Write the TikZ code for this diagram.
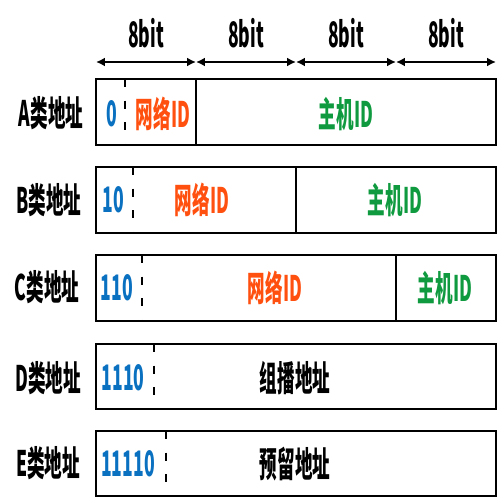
\documentclass[tikz,border=0pt]{standalone}
\usepackage{fontspec}
\setmainfont{Noto Sans CJK SC}[FakeStretch=0.5]
\usetikzlibrary{arrows.meta}

\definecolor{netred}{HTML}{FF5010}
\definecolor{hostgreen}{HTML}{109A40}
\definecolor{bitblue}{HTML}{0A70C0}

\tikzset{
  fieldbox/.style={draw, line width=1.6pt},
  divider/.style={line width=1.1pt},
  prefixcut/.style={dash pattern=on 4.5pt off 7.8pt, line width=1.1pt},
  bitspan/.style={{Latex[length=5pt,width=5pt]}-{Latex[length=5pt,width=5pt]}, line width=1.1pt},
  lbl/.style={font=\bfseries\fontsize{20}{20}\selectfont, inner sep=0pt},
}

\begin{document}
\begin{tikzpicture}[x=0.02cm, y=-0.02cm]
\useasboundingbox (0,0) rectangle (500,500);
% bit widths
\coordinate (t0) at (96,62);
\coordinate (t1) at (196,62);
\coordinate (t2) at (296,62);
\coordinate (t3) at (396,62);
\coordinate (t4) at (496,62);
\draw[bitspan] (t0) -- (t1);
\draw[bitspan] (t1) -- (t2);
\draw[bitspan] (t2) -- (t3);
\draw[bitspan] (t3) -- (t4);
\node[lbl] (b1) at (146,33) {8bit};
\node[lbl] (b2) at (246,33) {8bit};
\node[lbl] (b3) at (346,33) {8bit};
\node[lbl] (b4) at (446,33) {8bit};

% A
\node[lbl] (a) at (51,113) {A类地址};
\draw[fieldbox] (96,79) rectangle (496,145);
\draw[divider] (196,79) -- (196,145);
\draw[prefixcut] (125,79) -- (125,145);
\node[lbl, text=bitblue] (a0) at (112,114) {0};
\node[lbl, text=netred] (anet) at (163,114) {网络ID};
\node[lbl, text=hostgreen] (ahost) at (346,114) {主机ID};

% B
\node[lbl] (b) at (49,200) {B类地址};
\draw[fieldbox] (96,167) rectangle (496,233);
\draw[divider] (296,167) -- (296,233);
\draw[prefixcut] (133,167) -- (133,233);
\node[lbl, text=bitblue] (b0) at (113,200) {10};
\node[lbl, text=netred] (bnet) at (202,200) {网络ID};
\node[lbl, text=hostgreen] (bhost) at (395,200) {主机ID};

% C
\node[lbl] (c) at (47,287) {C类地址};
\draw[fieldbox] (96,255) rectangle (496,321);
\draw[divider] (396,255) -- (396,321);
\draw[prefixcut] (142,255) -- (142,321);
\node[lbl, text=bitblue] (c0) at (117,288) {110};
\node[lbl, text=netred] (cnet) at (275,288) {网络ID};
\node[lbl, text=hostgreen] (chost) at (445,288) {主机ID};

% D
\node[lbl] (d) at (48,378) {D类地址};
\draw[fieldbox] (96,344) rectangle (496,409);
\draw[prefixcut] (154,344) -- (154,409);
\node[lbl, text=bitblue] (d0) at (123,378) {1110};
\node[lbl] (dgrp) at (295,378) {组播地址};

% E
\node[lbl] (e) at (48,463) {E类地址};
\draw[fieldbox] (96,431) rectangle (496,496);
\draw[prefixcut] (166,431) -- (166,496);
\node[lbl, text=bitblue] (e0) at (128,464) {11110};
\node[lbl] (eres) at (295,464) {预留地址};
\end{tikzpicture}
\end{document}
